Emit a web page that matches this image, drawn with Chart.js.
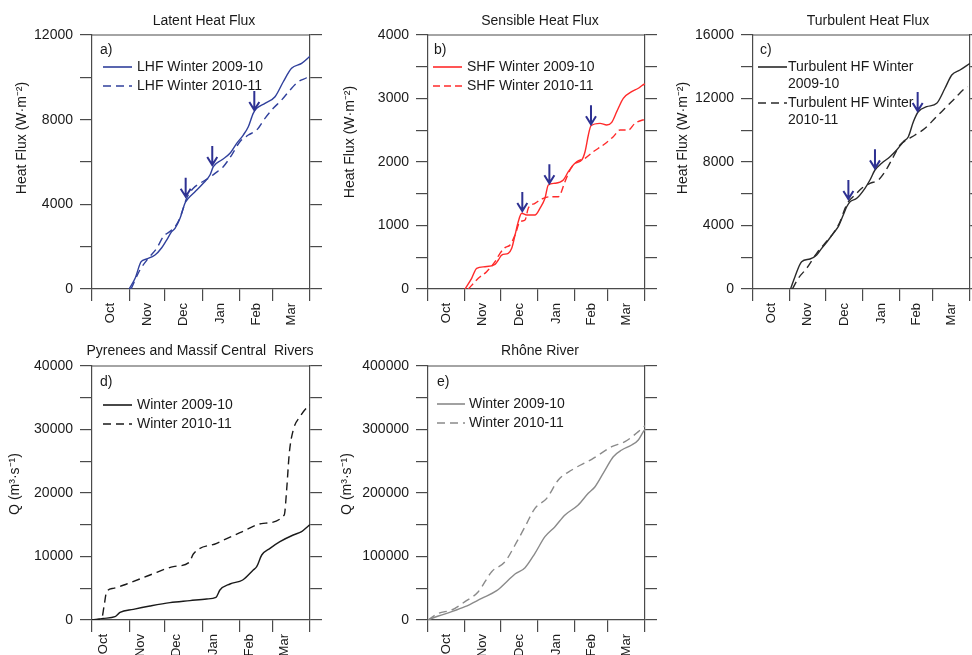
<!DOCTYPE html>
<html>
<head>
<meta charset="utf-8">
<script src="https://cdn.jsdelivr.net/npm/chart.js@4.4.1/dist/chart.umd.min.js"></script>
<style>
  body { margin: 0; background: #fff; }
  #wrap { position: relative; width: 972px; height: 655px; }
  #wrap canvas { position: absolute; left: 0; top: 0; }
</style>
</head>
<body>
<div id="wrap">
  <canvas id="chartA" width="972" height="655"></canvas>
  <canvas id="chartB" width="972" height="655"></canvas>
  <canvas id="chartC" width="972" height="655"></canvas>
  <canvas id="chartD" width="972" height="655"></canvas>
  <canvas id="chartE" width="972" height="655"></canvas>
</div>
<script>
const FONT = '"Liberation Sans", Arial, sans-serif';
const AXIS = '#4a4a4a';
const TEXT = '#1a1a1a';
const ARROW = '#2e3192';

// x axis: days since 1 October
const months = ['Oct', 'Nov', 'Dec', 'Jan', 'Feb', 'Mar'];
const monthEdges = [0, 31, 61, 92, 123, 151, 182];

// a) latent heat flux (W m-2, cumulative)
const lhf0910Days = [31, 36, 41, 45.6, 52.6, 58.2, 62.3, 66.5, 69.3, 73.5, 77.6, 80.4, 86, 92.9, 98.5, 101.3, 108.2, 115.2, 120.8, 126.3, 130.5, 134.6, 137.5, 144.4, 152.8, 159.7, 166.6, 175, 182];
const lhf0910 = [0, 505, 1290, 1417, 1606, 1951, 2314, 2707, 2866, 3340, 4048, 4284, 4596, 4993, 5385, 5778, 6094, 6410, 6882, 7274, 7667, 8299, 8535, 8772, 9083, 9792, 10425, 10661, 11000];
const lhf1011Days = [32.6, 40, 47, 54, 59.5, 66.5, 72, 76.2, 79, 84.6, 90.2, 97, 102.7, 109.6, 116.6, 123.5, 130.5, 137.5, 144.4, 151.3, 158.3, 165.3, 172.2, 179.2, 181];
const lhf1011 = [0, 897, 1449, 1922, 2470, 2787, 3180, 3812, 4284, 4757, 4993, 5229, 5465, 5778, 6330, 6958, 7274, 7511, 8063, 8535, 8928, 9400, 9792, 9981, 10050];
const lhfArrowDays = [78.2, 100.4, 135.5];
const lhfArrowValues = [4360, 5857, 8456];

// b) sensible heat flux
const shf0910Days = [31, 36.6, 40.8, 47.8, 56.2, 59, 61.8, 67.3, 70.2, 73, 75.7, 78.6, 82.8, 89.7, 93.9, 98.1, 100.9, 106.5, 113.5, 117.7, 123.3, 128.9, 131.7, 134.5, 136.7, 144.3, 149.9, 154.1, 158.3, 163.8, 170.8, 176.4, 180, 182];
const shf0910 = [0, 168, 326, 351, 388, 457, 535, 562, 640, 850, 1060, 1192, 1165, 1165, 1271, 1428, 1638, 1665, 1717, 1847, 1980, 2031, 2162, 2425, 2572, 2609, 2583, 2625, 2793, 3003, 3107, 3161, 3212, 3230];
const shf1011Days = [33.8, 42.2, 49.2, 56.2, 60.4, 64.6, 68.8, 73, 77.2, 81.4, 84.1, 89.7, 96.7, 102.3, 109.3, 114.9, 119.1, 124.7, 131.7, 138.6, 147, 155.4, 161, 168, 173.6, 180, 182];
const shf1011 = [0, 168, 273, 430, 562, 651, 693, 850, 1060, 1087, 1271, 1349, 1428, 1453, 1453, 1690, 1874, 2005, 2058, 2162, 2268, 2399, 2504, 2504, 2609, 2661, 2665];
const shfArrowDays = [79.1, 101.8, 136.7];
const shfArrowValues = [1228, 1665, 2593];

// c) turbulent heat flux
const thf0910Days = [31.5, 35.2, 40.8, 47.8, 53.4, 57.6, 63.2, 67.3, 71.5, 75.7, 78.6, 81.4, 87, 93.9, 98.1, 102.3, 107.9, 114.9, 120.5, 126.1, 130.3, 134.5, 138.6, 145.7, 154.1, 161, 166.7, 173.6, 182];
const thf0910 = [0, 775, 1720, 1890, 2142, 2562, 3087, 3509, 3924, 4661, 5184, 5499, 5713, 6343, 6866, 7496, 7918, 8334, 8756, 9279, 9594, 10539, 11168, 11483, 11698, 12643, 13480, 13795, 14217];
const thf1011Days = [33, 38, 45, 53.4, 60.4, 67.3, 73, 77.2, 80, 85.5, 91.2, 98.1, 105.1, 110.7, 116.3, 123.3, 128.9, 135.9, 144.3, 152.6, 161, 169.4, 177.8, 180];
const thf1011 = [0, 674, 1304, 2249, 2879, 3509, 4239, 5083, 5499, 5921, 6343, 6658, 6866, 7389, 8126, 9071, 9386, 9701, 10122, 10753, 11383, 12013, 12643, 12750];
const thfArrowDays = [80, 102.3, 138.1];
const thfArrowValues = [5669, 7600, 11213];

// d) Pyrenees and Massif Central rivers (m3 s-1, cumulative)
const pyr0910Days = [0, 9.5, 19.2, 23.4, 34.5, 48.4, 65.1, 81.8, 95.7, 103.5, 106.8, 115.2, 125.8, 134.6, 137.5, 141.7, 148.6, 156.9, 168, 175, 180.6, 182];
const pyr0910 = [0, 260, 520, 1210, 1680, 2200, 2730, 3045, 3310, 3570, 4724, 5670, 6300, 7874, 8400, 10236, 11286, 12336, 13386, 13911, 14800, 15000];
const pyr1011Days = [0, 8.1, 10, 12.2, 17.8, 29, 48.4, 67.9, 81.2, 84.6, 104.1, 123.5, 143, 160.5, 162.5, 164.7, 168, 173.6, 180.6, 182];
const pyr1011 = [0, 260, 2100, 4460, 4990, 5670, 7090, 8400, 9080, 10390, 12074, 13750, 15220, 16535, 20470, 26250, 29920, 32020, 33700, 33900];

// e) Rhone river
const rho0910Days = [0, 8.7, 19.9, 31, 45, 57.6, 66, 73, 81.4, 89.7, 98.1, 106.5, 114.9, 126, 134.4, 140.1, 148.5, 155.4, 162.5, 170.8, 176.4, 180.6, 182];
const rho0910 = [0, 6300, 13070, 20950, 34120, 46150, 60340, 72440, 82400, 105000, 131200, 147000, 165400, 181100, 199500, 209900, 236200, 257200, 267700, 275600, 283500, 296600, 300000];
const rho1011Days = [0, 8.7, 19.9, 31, 42.2, 53.4, 64.6, 73, 81.4, 89.7, 99.6, 109.3, 120.5, 137.3, 154.1, 165.2, 176.4, 182];
const rho1011 = [0, 10500, 15750, 28900, 44600, 76100, 91800, 118100, 147000, 175900, 191600, 220500, 236200, 253000, 272900, 280800, 296600, 306000];

const DASH = [8, 5];

const panels = [
  {
    canvas: 'chartA', area: { left: 92, right: 310, top: 35, bottom: 289 },
    yMax: 12000, yStep: 2000, yLabelEvery: 4000, color: '#30409c',
    title: 'Latent Heat Flux', titleX: 204, titleY: 21,
    yTitle: 'Heat Flux (W\u00b7m\u207b\u00b2)', yTitleX: 22, yTitleY: 138,
    letter: 'a)', letterX: 8, letterY: 15,
    legend: { x1: 11, x2: 40, tx: 45, rows: [32, 51] },
    series: [
      { label: 'LHF Winter 2009-10', days: lhf0910Days, values: lhf0910, dash: [] },
      { label: 'LHF Winter 2010-11', days: lhf1011Days, values: lhf1011, dash: DASH }
    ],
    arrowDays: lhfArrowDays, arrowValues: lhfArrowValues
  },
  {
    canvas: 'chartB', area: { left: 428, right: 645, top: 35, bottom: 289 },
    yMax: 4000, yStep: 500, yLabelEvery: 1000, color: '#ff2b2b',
    title: 'Sensible Heat Flux', titleX: 540, titleY: 21,
    yTitle: 'Heat Flux (W\u00b7m\u207b\u00b2)', yTitleX: 350, yTitleY: 142,
    letter: 'b)', letterX: 6, letterY: 15,
    legend: { x1: 5, x2: 34, tx: 39, rows: [32, 51] },
    series: [
      { label: 'SHF Winter 2009-10', days: shf0910Days, values: shf0910, dash: [] },
      { label: 'SHF Winter 2010-11', days: shf1011Days, values: shf1011, dash: [7, 4] }
    ],
    arrowDays: shfArrowDays, arrowValues: shfArrowValues
  },
  {
    canvas: 'chartC', area: { left: 753, right: 970, top: 35, bottom: 289 },
    yMax: 16000, yStep: 2000, yLabelEvery: 4000, color: '#2a2a2a',
    title: 'Turbulent Heat Flux', titleX: 868, titleY: 21,
    yTitle: 'Heat Flux (W\u00b7m\u207b\u00b2)', yTitleX: 683, yTitleY: 138,
    letter: 'c)', letterX: 7, letterY: 15,
    legend: { x1: 5, x2: 34, tx: 35, rows: [32, 68] },
    series: [
      { label: 'Turbulent HF Winter\n2009-10', days: thf0910Days, values: thf0910, dash: [] },
      { label: 'Turbulent HF Winter\n2010-11', days: thf1011Days, values: thf1011, dash: DASH }
    ],
    arrowDays: thfArrowDays, arrowValues: thfArrowValues
  },
  {
    canvas: 'chartD', area: { left: 92, right: 310, top: 366, bottom: 620 },
    yMax: 40000, yStep: 5000, yLabelEvery: 10000, color: '#1a1a1a', monthShift: -7,
    title: 'Pyrenees and Massif Central  Rivers', titleX: 200, titleY: 351,
    yTitle: 'Q (m\u00b3\u00b7s\u207b\u00b9)', yTitleX: 15, yTitleY: 484,
    letter: 'd)', letterX: 8, letterY: 16,
    legend: { x1: 11, x2: 40, tx: 45, rows: [39, 58] },
    series: [
      { label: 'Winter 2009-10', days: pyr0910Days, values: pyr0910, dash: [] },
      { label: 'Winter 2010-11', days: pyr1011Days, values: pyr1011, dash: DASH }
    ]
  },
  {
    canvas: 'chartE', area: { left: 428, right: 645, top: 366, bottom: 620 },
    yMax: 400000, yStep: 50000, yLabelEvery: 100000, color: '#8a8a8a',
    title: 'Rh\u00f4ne River', titleX: 540, titleY: 351,
    yTitle: 'Q (m\u00b3\u00b7s\u207b\u00b9)', yTitleX: 347, yTitleY: 484,
    letter: 'e)', letterX: 9, letterY: 16,
    legend: { x1: 9, x2: 37, tx: 41, rows: [38, 57] },
    series: [
      { label: 'Winter 2009-10', days: rho0910Days, values: rho0910, dash: [] },
      { label: 'Winter 2010-11', days: rho1011Days, values: rho1011, dash: DASH }
    ]
  }
];

// titles, legend, panel letter, top frame and the arrows
const decor = {
  id: 'decor',
  afterDraw(chart, args, o) {
    const ctx = chart.ctx;
    const a = chart.chartArea;
    const p = o.panel;
    ctx.save();
    ctx.strokeStyle = AXIS;
    ctx.lineWidth = 1.2;
    ctx.beginPath();
    ctx.moveTo(a.left, a.top);
    ctx.lineTo(a.right, a.top);
    ctx.stroke();

    ctx.fillStyle = TEXT;
    ctx.font = '14px ' + FONT;
    ctx.textAlign = 'center';
    ctx.textBaseline = 'middle';
    ctx.fillText(p.title, p.titleX, p.titleY);
    ctx.save();
    ctx.translate(p.yTitleX, p.yTitleY);
    ctx.rotate(-Math.PI / 2);
    ctx.fillText(p.yTitle, 0, 0);
    ctx.restore();

    ctx.textAlign = 'left';
    ctx.fillText(p.letter, a.left + p.letterX, a.top + p.letterY);

    p.series.forEach((s, i) => {
      const y = a.top + p.legend.rows[i];
      ctx.strokeStyle = p.color;
      ctx.lineWidth = 1.6;
      ctx.setLineDash(s.dash);
      ctx.beginPath();
      ctx.moveTo(a.left + p.legend.x1, y);
      ctx.lineTo(a.left + p.legend.x2, y);
      ctx.stroke();
      ctx.setLineDash([]);
      s.label.split('\n').forEach((line, j) => {
        ctx.fillText(line, a.left + p.legend.tx, y + j * 17);
      });
    });

    if (p.arrowDays) {
      const sx = chart.scales.x, sy = chart.scales.y;
      ctx.strokeStyle = ARROW;
      ctx.lineWidth = 2;
      p.arrowDays.forEach((d, i) => {
        const px = sx.getPixelForValue(d);
        const py = sy.getPixelForValue(p.arrowValues[i]);
        ctx.beginPath();
        ctx.moveTo(px, py - 19);
        ctx.lineTo(px, py);
        ctx.moveTo(px - 5, py - 8);
        ctx.lineTo(px, py);
        ctx.lineTo(px + 5, py - 8);
        ctx.stroke();
      });
    }
    ctx.restore();
  }
};

function makePanel(p) {
  const a = p.area;
  const axisW = 82;
  const rightW = Math.min(12, 972 - a.right);
  const labelH = Math.min(40, 655 - a.bottom - 12);
  const mids = monthEdges.slice(0, -1).map((e, i) => (e + monthEdges[i + 1]) / 2);
  const grid = { drawOnChartArea: false, color: AXIS, tickLength: 12, lineWidth: 1.2 };
  const border = { color: AXIS, width: 1.2 };

  new Chart(document.getElementById(p.canvas), {
    type: 'line',
    data: {
      datasets: p.series.map(s => ({
        label: s.label,
        data: s.days.map((d, i) => ({ x: d, y: s.values[i] })),
        borderColor: p.color,
        borderWidth: 1.4,
        borderDash: s.dash,
        pointRadius: 0,
        cubicInterpolationMode: 'monotone',
        fill: false
      }))
    },
    options: {
      responsive: false,
      animation: false,
      layout: {
        padding: {
          left: a.left - axisW,
          right: 972 - a.right - rightW,
          top: a.top,
          bottom: 655 - a.bottom - 12 - labelH
        }
      },
      plugins: {
        legend: { display: false },
        tooltip: { enabled: false },
        decor: { panel: p }
      },
      scales: {
        x: {
          type: 'linear', position: 'bottom', weight: 0,
          min: 0, max: 182,
          grid: grid, border: border,
          ticks: { display: false },
          afterBuildTicks: s => { s.ticks = monthEdges.map(v => ({ value: v })); },
          afterFit: s => { s.height = 12; }
        },
        xm: {
          type: 'linear', position: 'bottom', weight: 1,
          min: 0, max: 182,
          grid: { display: false, drawTicks: false },
          border: { display: false },
          ticks: {
            autoSkip: false, maxRotation: 90, minRotation: 90, padding: 2,
            labelOffset: p.monthShift || 0,
            color: TEXT, font: { size: 13 },
            callback: (v, i) => months[i]
          },
          afterBuildTicks: s => { s.ticks = mids.map(v => ({ value: v })); },
          afterFit: s => { s.height = labelH; }
        },
        y: {
          position: 'left', min: 0, max: p.yMax,
          grid: grid, border: border,
          ticks: {
            stepSize: p.yStep, padding: 7, color: TEXT, font: { size: 14 },
            callback: v => (v % p.yLabelEvery === 0 ? String(v) : '')
          },
          afterFit: s => { s.width = axisW; }
        },
        y2: {
          position: 'right', min: 0, max: p.yMax,
          grid: grid, border: border,
          ticks: { stepSize: p.yStep, display: false },
          afterFit: s => { s.width = rightW; }
        }
      }
    },
    plugins: [decor]
  });
}

Chart.defaults.font.family = FONT;
panels.forEach(makePanel);
</script>
</body>
</html>
